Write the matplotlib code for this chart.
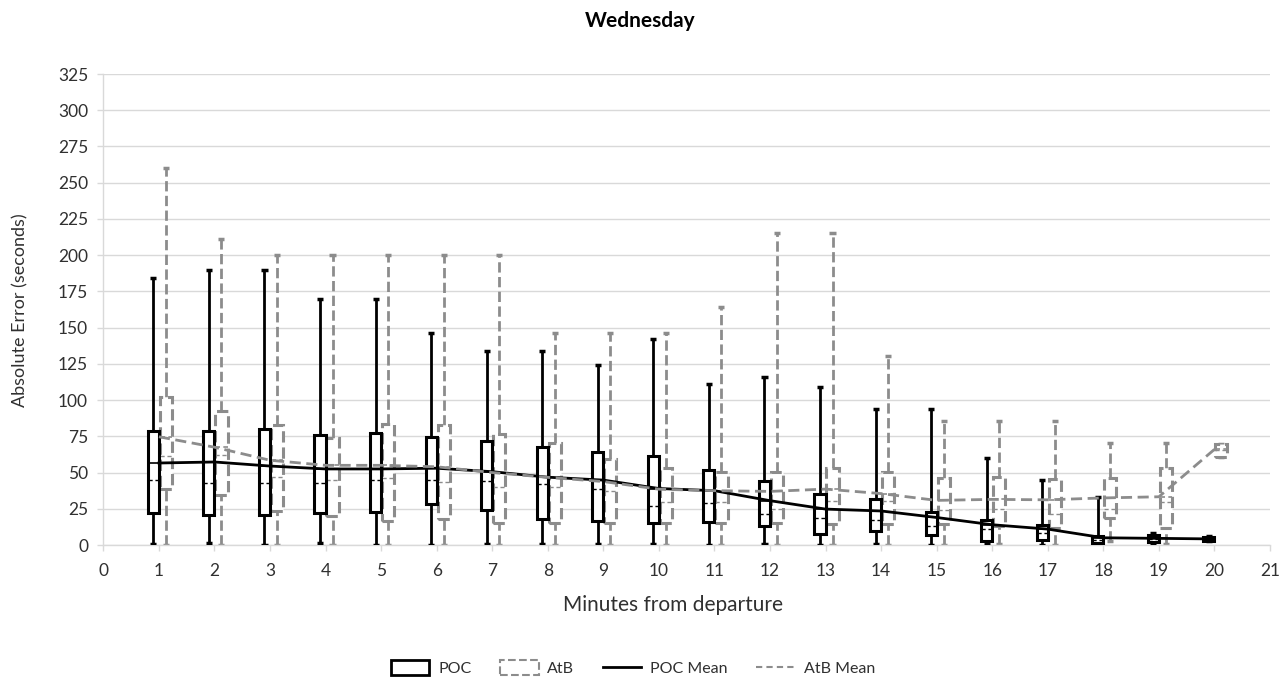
import matplotlib

matplotlib.use("Agg")
import matplotlib.pyplot as plt
from matplotlib.lines import Line2D
from matplotlib.patches import Patch
import numpy as np

plt.rcParams["font.family"] = ["Lato", "DejaVu Sans"]

minutes = np.arange(1, 21)

# POC error distribution per minute from departure (seconds)
poc_hi = [184, 190, 190, 170, 170, 146, 134, 134, 124, 142, 111, 116, 109, 94, 94, 60, 45, 33, 8, 6]
poc_q3 = [79, 79, 80, 76, 77.5, 74.5, 72, 67.5, 64, 61.5, 52, 44.3, 35.5, 32, 23, 17, 13.7, 6.2, 6.9, 5.5]
poc_med = [45, 43, 42.5, 43, 45, 45, 44.5, 42, 38.5, 27, 29, 21.4, 18.6, 17.3, 13, 10.8, 8.5, 3.5, 4.5, 4]
poc_q1 = [22, 21, 21, 22, 23, 28.5, 24, 18, 16.6, 15, 16, 13, 7.6, 10, 6.7, 2.5, 3.2, 1.1, 2.3, 3]
poc_lo = [1, 1.5, 0, 1.5, 0, 0, 1, 1, 1, 1, 0, 1, 0, 1, 0, 0.5, 0, 0, 1, 2.5]
poc_mean = [56.6, 57.3, 54.5, 52.5, 52.5, 53, 50.6, 46.8, 44.8, 39, 37.5, 30.6, 24.8, 23.5, 19, 14, 11, 5, 4.6, 4.2]

# AtB error distribution per minute from departure (seconds)
atb_hi = [260, 211, 200, 200, 200, 200, 200, 146, 146, 146, 164, 215, 215, 130.5, 85.5, 85.5, 85.5, 70.5, 70.5, 70]
atb_q3 = [102.4, 92.5, 82.5, 74, 83.3, 82.5, 76.4, 70.2, 59.1, 53.4, 50.4, 50.6, 52.9, 50.6, 46, 47, 45.5, 46, 53.4, 70]
atb_med = [61.4, 62, 46.6, 44.6, 46, 43.7, 39.8, 39.8, 37, 30, 30, 25, 30.6, 30.6, 24.2, 24.6, 21.4, 24.6, 30, 65.5]
atb_q1 = [38.4, 34.5, 23.7, 20, 16.8, 17.7, 15, 15, 15, 15, 15, 15, 14.5, 14.5, 14.5, 13, 11.5, 18.4, 12, 60.5]
atb_lo = [0, 0, 0, 0, 0, 0, 0, 0, 0, 0, 0, 0, 0, 0, 0, 0.5, 0, 3, 1, 60.5]
atb_mean = [74.7, 67.5, 58.5, 55, 55, 54, 50, 46.7, 43.8, 38.5, 37.5, 37, 38.6, 35.5, 30.8, 31.5, 31.2, 32.5, 33.3, 66]

GREY = "#8c8c8c"
GRID = "#d9d9d9"
TEXT = "#303030"


def draw_boxes(ax, xc, width, lo, q1, med, q3, hi, mean, color, ls, z):
    half = width / 2
    cap = 0.055
    for x, a, b, m, c, d, mu in zip(xc, lo, q1, med, q3, hi, mean):
        ax.vlines(x, a, b, color=color, lw=2, linestyles=ls, zorder=z)
        ax.vlines(x, c, d, color=color, lw=2, linestyles=ls, zorder=z)
        ax.hlines([a, d], x - cap, x + cap, color=color, lw=2.5, zorder=z)
        ax.bar(x, c - b, bottom=b, width=width, facecolor="white", edgecolor=color,
               lw=2.2, linestyle=ls, zorder=z + 0.1)
        ax.hlines(m, x - half, x + half, color=color, lw=1, linestyles=(0, (3, 2)), zorder=z + 0.2)
        ax.hlines(mu, x - half, x + half, color=color, lw=1.2,
                  linestyles="-" if ls == "-" else (0, (3, 2)), zorder=z + 0.2)


fig = plt.figure(figsize=(12.81, 6.79), dpi=100)
ax = fig.add_axes([0.0807, 0.1973, 0.9107, 0.6937])

draw_boxes(ax, minutes + 0.125, 0.22, atb_lo, atb_q1, atb_med, atb_q3, atb_hi, atb_mean, GREY, "--", 2)
draw_boxes(ax, minutes - 0.1, 0.2, poc_lo, poc_q1, poc_med, poc_q3, poc_hi, poc_mean, "black", "-", 3)

ax.plot(minutes, poc_mean, color="black", lw=2, zorder=5)
ax.plot(minutes, atb_mean, color=GREY, lw=2, linestyle=(0, (4, 2)), zorder=5)

ax.set_xlim(0, 21)
ax.set_ylim(0, 325)
ax.set_xticks(range(0, 22))
ax.set_yticks(range(0, 326, 25))
ax.grid(axis="y", color=GRID, lw=1)
ax.set_axisbelow(True)
for side in ("top", "right"):
    ax.spines[side].set_visible(False)
for side in ("left", "bottom"):
    ax.spines[side].set_color(GRID)
    ax.spines[side].set_linewidth(1)
ax.tick_params(axis="both", colors=GRID, labelcolor=TEXT, labelsize=12.5, length=4, width=1)
ax.tick_params(axis="y", pad=7)
ax.tick_params(axis="x", pad=9)

fig.text(0.5, 1 - 21 / 679, "Wednesday", ha="center", va="center", fontsize=15,
         fontweight="bold", color="black")
fig.text(20 / 1281, 0.5435, "Absolute Error (seconds)", rotation=90, ha="center",
         va="center", fontsize=13, color=TEXT)
fig.text(673 / 1281, 1 - 605 / 679, "Minutes from departure", ha="center", va="center",
         fontsize=15, color=TEXT)

handles = [
    Patch(facecolor="white", edgecolor="black", lw=2),
    Patch(facecolor="white", edgecolor=GREY, lw=1.5, linestyle="--"),
    Line2D([], [], color="black", lw=2),
    Line2D([], [], color=GREY, lw=1.5, linestyle=(0, (3, 2))),
]
fig.legend(handles, ["POC", "AtB", "POC Mean", "AtB Mean"], loc="center",
           bbox_to_anchor=(633 / 1281, 1 - 668 / 679), ncol=4, frameon=False,
           fontsize=11.5, handlelength=2.4, handleheight=1.1, columnspacing=1.8,
           handletextpad=0.55, labelcolor=TEXT)

fig.savefig("out.png", dpi=100)
